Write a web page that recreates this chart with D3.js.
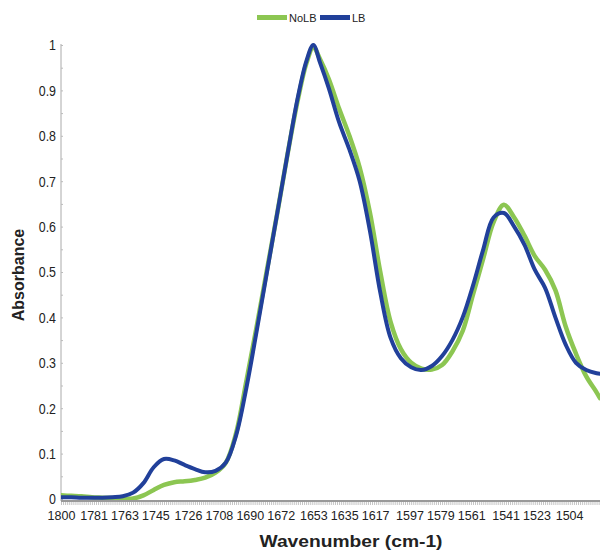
<!DOCTYPE html>
<html><head><meta charset="utf-8">
<script src="https://cdn.jsdelivr.net/npm/d3@7"></script>
<style>body{margin:0;background:#fff}svg{display:block}</style>
</head><body>
<script>
const wavenumbers = [1800,1794,1788,1782,1776,1770,1764,1758,1752,1746,1740,1734,1728,1722,1716,1710,1704,1698,1692,1686,1680,1674,1668,1662,1657,1653,1649,1644,1638,1632,1626,1620,1614,1608,1602,1596,1590,1584,1578,1572,1566,1560,1554,1548,1542,1536,1530,1524,1518,1512,1506,1500,1494,1488,1486];
const noLB = [0.008,0.007,0.006,0.004,0.003,0.002,0.001,0.001,0.008,0.020,0.031,0.037,0.039,0.042,0.047,0.058,0.08,0.145,0.26,0.38,0.505,0.63,0.76,0.88,0.96,0.995,0.968,0.925,0.86,0.80,0.73,0.63,0.50,0.39,0.33,0.30,0.287,0.285,0.295,0.325,0.37,0.45,0.53,0.61,0.648,0.62,0.58,0.535,0.505,0.46,0.38,0.32,0.27,0.235,0.222];
const LB = [0.004,0.004,0.003,0.003,0.003,0.004,0.006,0.014,0.035,0.070,0.088,0.085,0.075,0.066,0.059,0.062,0.080,0.14,0.245,0.37,0.50,0.63,0.76,0.885,0.965,1.0,0.96,0.905,0.83,0.77,0.70,0.59,0.455,0.355,0.31,0.29,0.284,0.293,0.315,0.35,0.40,0.47,0.55,0.62,0.63,0.60,0.56,0.505,0.465,0.40,0.34,0.30,0.284,0.277,0.276];
const xTickLabels = [1800,1781,1763,1745,1726,1708,1690,1672,1653,1635,1617,1597,1579,1561,1541,1523,1504];
const yTicks = [0,0.1,0.2,0.3,0.4,0.5,0.6,0.7,0.8,0.9,1];
const seriesNames = ["NoLB","LB"];
const seriesColors = ["#8cc652","#21409a"];

const W=600,H=556;
const svg=d3.select("body").append("svg").attr("width",W).attr("height",H);
const x=d3.scaleLinear().domain([1800,1486]).range([61,600]);
const y=d3.scaleLinear().domain([0,1]).range([499,45]);
const FONT="'Liberation Sans',Arial,sans-serif";
function narrow(sel,f){sel.each(function(){const l=this.getComputedTextLength();d3.select(this).attr("textLength",l*f).attr("lengthAdjust","spacingAndGlyphs");});}

// y axis
const ya=svg.append("g").attr("transform","translate(61,0)")
  .call(d3.axisLeft(y).tickValues(yTicks).tickSize(0).tickPadding(5).tickFormat(d=>d===0?"0":(d===1?"1":d3.format(".1f")(d))));
ya.select(".domain").attr("stroke","#aaa").attr("d","M0,44V501");
ya.selectAll("text").attr("font-family",FONT).attr("font-size",15.5).attr("fill","#222").call(narrow,0.8);
const yMinor=svg.append("g").attr("transform","translate(61,0)")
  .call(d3.axisRight(y).tickValues(d3.range(0,1.001,0.05)).tickSize(2).tickFormat(""));
yMinor.select(".domain").remove();
yMinor.selectAll("line").attr("stroke","#bbb");

// x axis
const minor=svg.append("g").attr("transform","translate(0,502)")
  .call(d3.axisBottom(x).tickValues(d3.range(1800,1485,-1.2)).tickSize(3).tickFormat(""));
minor.select(".domain").remove();
minor.selectAll("line").attr("stroke","#aaa").attr("stroke-width",0.7);
const xa=svg.append("g").attr("transform","translate(0,501)")
  .call(d3.axisBottom(x).tickValues(xTickLabels).tickSize(0).tickPadding(10).tickFormat(d3.format("d")));
xa.select(".domain").attr("stroke","#999").attr("stroke-width",2).attr("d","M61,0H600");
xa.selectAll("text").attr("font-family",FONT).attr("font-size",12.5).attr("fill","#222");

// lines
const data=[noLB,LB];
const line=d3.line().x((d,i)=>x(wavenumbers[i])).y(d=>y(d)).curve(d3.curveCatmullRom.alpha(0.5));
svg.append("defs").append("clipPath").attr("id","clip").append("rect").attr("x",61).attr("y",0).attr("width",540).attr("height",500);
svg.append("g").attr("clip-path","url(#clip)").selectAll("path").data(data).join("path")
  .attr("d",line).attr("fill","none").attr("stroke",(d,i)=>seriesColors[i])
  .attr("stroke-width",(d,i)=>i===0?4.5:4).attr("stroke-linejoin","round").attr("stroke-linecap","round");

// legend
const lg=svg.append("g").attr("font-family",FONT).attr("font-size",11);
const legX=[257,320];
seriesNames.forEach((n,i)=>{
  lg.append("rect").attr("x",legX[i]).attr("y",15).attr("width",30).attr("height",5).attr("fill",seriesColors[i]);
  lg.append("text").attr("x",legX[i]+32).attr("y",22).attr("fill","#222").text(n);
});

// titles
svg.append("text").attr("x",351).attr("y",547).attr("text-anchor","middle")
  .attr("font-family",FONT).attr("font-weight","bold").attr("font-size",17)
  .attr("textLength",183).attr("lengthAdjust","spacingAndGlyphs").attr("fill","#222").text("Wavenumber (cm-1)");
svg.append("text").attr("transform","translate(24,275) rotate(-90)").attr("text-anchor","middle")
  .attr("font-family",FONT).attr("font-weight","bold").attr("font-size",16)
  .attr("fill","#222").text("Absorbance");
</script>
</body></html>
